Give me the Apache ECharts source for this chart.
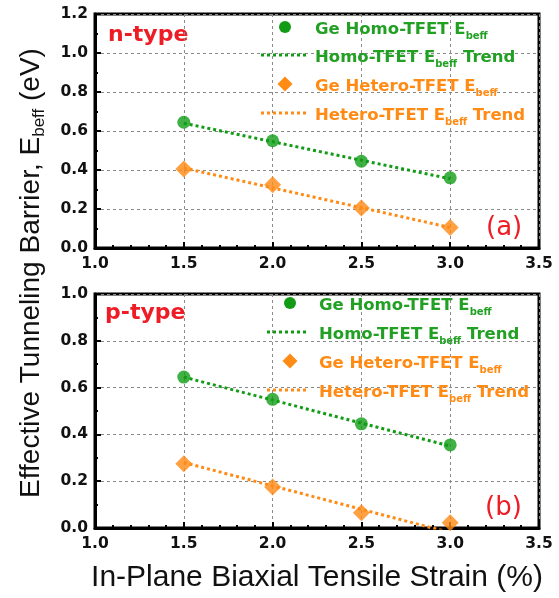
<!DOCTYPE html>
<html>
<head>
<meta charset="utf-8">
<script src="https://cdn.jsdelivr.net/npm/echarts@6/dist/echarts.min.js"></script>
<style>
  html, body { margin: 0; padding: 0; background: #fff; }
  #chart { width: 559px; height: 598px; }
</style>
</head>
<body>
<div id="chart"></div>
<script>
// strain (%)
const strain = [1.5, 2.0, 2.5, 3.0];
const trendX = [1.5, 3.0];
const xTicks = [1.0, 1.5, 2.0, 2.5, 3.0, 3.5];

// (a) n-type
const nHomo = [0.645, 0.55, 0.445, 0.36];
const nHetero = [0.405, 0.325, 0.205, 0.105];
const nHomoTrend = [0.64, 0.355];
const nHeteroTrend = [0.41, 0.105];

// (b) p-type
const pHomo = [0.645, 0.55, 0.445, 0.355];
const pHetero = [0.275, 0.175, 0.065, 0.022];
const pHomoTrend = [0.645, 0.35];
const pHeteroTrend = [0.28, -0.02];

const names = ["Ge Homo-TFET Ebeff", "Homo-TFET Ebeff Trend", "Ge Hetero-TFET Ebeff", "Hetero-TFET Ebeff Trend"];

const GREEN = "#129c16";
const GREEN_TXT = "#22a024";
const ORANGE = "#ff8a14";
const RED = "#ee1c24";
const tickFont = "DejaVu Sans";
const titleFont = "Liberation Sans, Arial, sans-serif";

const pairs = (xs, ys) => xs.map((x, i) => [x, ys[i]]);

function makeXAxis(idx) {
  return {
    gridIndex: idx,
    type: "value",
    min: xTicks[0],
    max: xTicks[xTicks.length - 1],
    interval: 0.5,
    axisLine: { lineStyle: { color: "#000", width: 3 } },
    axisTick: { inside: true, length: 6, lineStyle: { color: "#000", width: 2 } },
    minorTick: { show: true, splitNumber: 5, length: 3, lineStyle: { color: "#000", width: 2 } },
    axisLabel: {
      color: "#111", fontSize: 15.5, fontWeight: "bold", fontFamily: tickFont, margin: 8,
      formatter: v => v.toFixed(1)
    },
    splitLine: { show: true, lineStyle: { color: "#8a8a8a", type: [3, 3], width: 1 } }
  };
}

function makeYAxis(idx, max) {
  return {
    gridIndex: idx,
    type: "value",
    min: 0,
    max: max,
    interval: 0.2,
    axisLine: { show: true, lineStyle: { color: "#000", width: 3 } },
    axisTick: { show: true, inside: true, length: 6, lineStyle: { color: "#000", width: 2 } },
    minorTick: { show: true, splitNumber: 2, length: 3, lineStyle: { color: "#000", width: 2 } },
    axisLabel: {
      color: "#111", fontSize: 15.5, fontWeight: "bold", fontFamily: tickFont, margin: 7,
      formatter: v => v.toFixed(1)
    },
    splitLine: { show: true, lineStyle: { color: "#8a8a8a", type: [3, 3], width: 1 } }
  };
}

function makeSeries(idx, homo, hetero, homoTrend, heteroTrend) {
  return [
    {
      name: names[1], type: "line", xAxisIndex: idx, yAxisIndex: idx,
      data: pairs(trendX, homoTrend), symbol: "none", clip: true,
      lineStyle: { color: GREEN, width: 3, type: [3, 3] }
    },
    {
      name: names[3], type: "line", xAxisIndex: idx, yAxisIndex: idx,
      data: pairs(trendX, heteroTrend), symbol: "none", clip: true,
      lineStyle: { color: ORANGE, width: 3, type: [3, 3] }
    },
    {
      name: names[0], type: "scatter", xAxisIndex: idx, yAxisIndex: idx,
      data: pairs(strain, homo), symbol: "circle", symbolSize: 13,
      itemStyle: { color: GREEN }
    },
    {
      name: names[2], type: "scatter", xAxisIndex: idx, yAxisIndex: idx,
      data: pairs(strain, hetero), symbol: "diamond", symbolSize: 17, clip: false,
      itemStyle: { color: ORANGE }
    }
  ];
}

// hand-drawn legend block (icon column + rich text)
const rich = {
  g: { fill: GREEN_TXT, fontSize: 16.5, fontWeight: "bold", fontFamily: tickFont },
  gs: { fill: GREEN_TXT, fontSize: 10, fontWeight: "bold", fontFamily: tickFont, verticalAlign: "bottom", padding: [12, 0, 0, 0] },
  o: { fill: ORANGE, fontSize: 16.5, fontWeight: "bold", fontFamily: tickFont },
  os: { fill: ORANGE, fontSize: 10, fontWeight: "bold", fontFamily: tickFont, verticalAlign: "bottom", padding: [12, 0, 0, 0] }
};
const legendLabels = [
  "{g|Ge Homo-TFET E}{gs|beff}",
  "{g|Homo-TFET E}{gs|beff}{g| Trend}",
  "{o|Ge Hetero-TFET E}{os|beff}",
  "{o|Hetero-TFET E}{os|beff}{o| Trend}"
];

function legendBlock(cx, lx1, lx2, tx, rows) {
  const items = [];
  items.push({ type: "circle", shape: { cx: cx, cy: rows[0], r: 6 }, style: { fill: GREEN }, z: 10 });
  items.push({ type: "line", shape: { x1: lx1, y1: rows[1], x2: lx2, y2: rows[1] }, style: { stroke: GREEN, lineWidth: 3, lineDash: [3, 3] }, z: 10 });
  items.push({ type: "polygon", shape: { points: [[cx, rows[2] - 7.5], [cx + 7.5, rows[2]], [cx, rows[2] + 7.5], [cx - 7.5, rows[2]]] }, style: { fill: ORANGE }, z: 10 });
  items.push({ type: "line", shape: { x1: lx1, y1: rows[3], x2: lx2, y2: rows[3] }, style: { stroke: ORANGE, lineWidth: 3, lineDash: [3, 3] }, z: 10 });
  legendLabels.forEach((t, i) => {
    items.push({
      type: "text", x: tx, y: rows[i] + 3, z: 10,
      style: { text: t, rich: rich, verticalAlign: "middle", align: "left" }
    });
  });
  return items;
}

const chart = echarts.init(document.getElementById("chart"));
chart.setOption({
  backgroundColor: "#fff",
  animation: false,
  grid: [
    { left: 95, top: 14, width: 444, height: 234, show: true, borderColor: "#000", borderWidth: 3 },
    { left: 95, top: 294, width: 444, height: 234, show: true, borderColor: "#000", borderWidth: 3 }
  ],
  xAxis: [makeXAxis(0), makeXAxis(1)],
  yAxis: [makeYAxis(0, 1.2), makeYAxis(1, 1.0)],
  series: makeSeries(0, nHomo, nHetero, nHomoTrend, nHeteroTrend)
    .concat(makeSeries(1, pHomo, pHetero, pHomoTrend, pHeteroTrend)),
  graphic: []
    .concat(legendBlock(285, 261, 306, 315, [27, 55, 84, 113]))
    .concat(legendBlock(290, 267, 308, 319, [303, 332, 361, 390]))
    .concat([
      { type: "text", x: 108, y: 35, style: { text: "n-type", fill: RED, font: "bold 22px " + tickFont, verticalAlign: "middle" } },
      { type: "text", x: 105, y: 313, style: { text: "p-type", fill: RED, font: "bold 22px " + tickFont, verticalAlign: "middle" } },
      { type: "text", x: 486, y: 228, style: { text: "(a)", fill: RED, font: "26px " + tickFont, verticalAlign: "middle" } },
      { type: "text", x: 485, y: 508, style: { text: "(b)", fill: RED, font: "26px " + tickFont, verticalAlign: "middle" } },
      {
        type: "text", x: 31, y: 273, rotation: Math.PI / 2,
        style: {
          text: "{t|Effective Tunneling Barrier, E}{s|beff}{t| (eV)}",
          align: "center", verticalAlign: "middle",
          rich: {
            t: { fill: "#111", fontSize: 28, fontFamily: titleFont },
            s: { fill: "#111", fontSize: 17, fontFamily: titleFont, verticalAlign: "bottom", padding: [16, 0, 0, 0] }
          }
        }
      },
      {
        type: "text", x: 317, y: 578,
        style: { text: "In-Plane Biaxial Tensile Strain (%)", fill: "#111", font: "30px " + titleFont, align: "center", verticalAlign: "middle" }
      }
    ])
});
</script>
</body>
</html>
